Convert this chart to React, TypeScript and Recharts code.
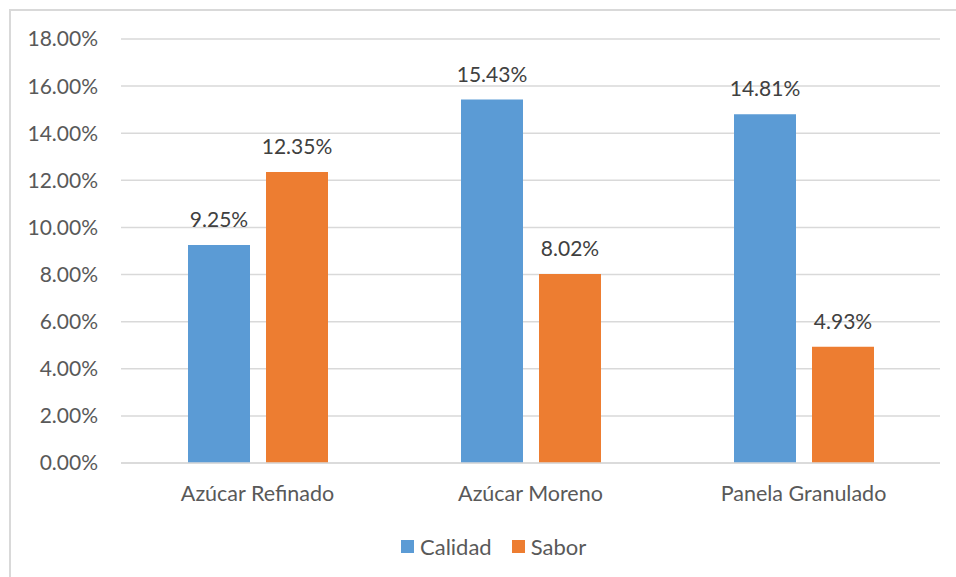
import { BarChart, Bar, XAxis, YAxis, CartesianGrid, Legend, LabelList } from 'recharts'

const categories = ['Azúcar Refinado', 'Azúcar Moreno', 'Panela Granulado']
const calidad = [9.25, 15.43, 14.81]
const sabor = [12.35, 8.02, 4.93]
const yTicks = [0, 2, 4, 6, 8, 10, 12, 14, 16, 18]

const series = [
  { key: 'calidad', name: 'Calidad', color: '#5B9BD5' },
  { key: 'sabor', name: 'Sabor', color: '#ED7D31' },
]

const data = categories.map((name, i) => ({ name, calidad: calidad[i], sabor: sabor[i] }))

const FONT = 'Lato, "Noto Sans", sans-serif'
const pct = (v: number) => `${v.toFixed(2)}%`

const LegendRow = () => (
  <div style={{ display: 'flex', alignItems: 'center', fontFamily: FONT, fontSize: 22, color: '#595959' }}>
    {series.map((s, i) => (
      <span key={s.key} style={{ display: 'flex', alignItems: 'center', marginRight: i === 0 ? 20 : 0 }}>
        <span style={{ width: 13, height: 13, background: s.color, display: 'inline-block', marginRight: 6 }} />
        {s.name}
      </span>
    ))}
  </div>
)

export default function App() {
  return (
    <div style={{ position: 'absolute', left: 0, top: 0, width: 956, height: 577, overflow: 'hidden', background: '#fff' }}>
      <div style={{ position: 'absolute', left: 9, top: 9, width: 1000, height: 620, border: '2px solid #d9d9d9' }} />
      <BarChart
        width={956}
        height={577}
        data={data}
        margin={{ top: 39, right: 16, left: 0, bottom: 54 }}
        barCategoryGap={67}
        barGap={16}
        style={{ position: 'absolute', left: 0, top: 0 }}
      >
        <CartesianGrid horizontal vertical={false} stroke="#d9d9d9" strokeWidth={1.5} />
        <XAxis
          dataKey="name"
          axisLine={{ stroke: '#d9d9d9', strokeWidth: 1.5 }}
          tickLine={false}
          tickSize={0}
          tickMargin={23}
          tick={{ fill: '#595959', fontSize: 21.5, fontFamily: FONT }}
          height={60}
        />
        <YAxis
          domain={[0, 18]}
          ticks={yTicks}
          tickFormatter={pct}
          axisLine={false}
          tickLine={false}
          tickSize={0}
          tickMargin={23}
          width={121}
          tick={{ fill: '#595959', fontSize: 21, fontFamily: FONT }}
        />
        {/* middle alignment keeps the legend from reserving space in the plot layout */}
        <Legend
          verticalAlign="middle"
          content={<LegendRow />}
          wrapperStyle={{ position: 'absolute', left: 401, top: 533, width: 'auto' }}
        />
        {series.map(s => (
          <Bar key={s.key} dataKey={s.key} name={s.name} fill={s.color} isAnimationActive={false}>
            <LabelList
              dataKey={s.key}
              position="top"
              offset={18}
              formatter={(v: any) => pct(Number(v))}
              style={{ fill: '#404040', fontSize: 21, fontFamily: FONT }}
            />
          </Bar>
        ))}
      </BarChart>
    </div>
  )
}
